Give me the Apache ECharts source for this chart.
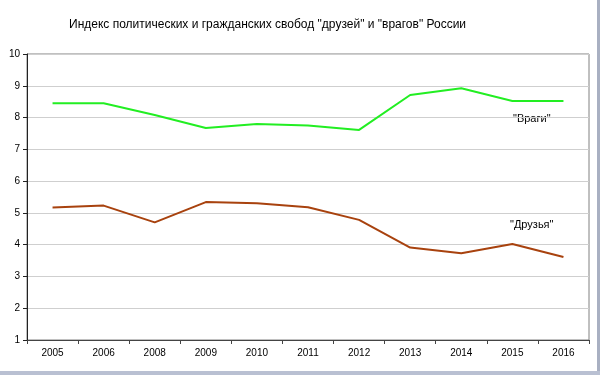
<!DOCTYPE html>
<html>
<head>
<meta charset="utf-8">
<script src="https://cdn.jsdelivr.net/npm/echarts@6/dist/echarts.min.js"></script>
<style>
    html, body { margin: 0; padding: 0; background: #fff; }
    #chart { width: 600px; height: 375px; }
</style>
</head>
<body>
<div id="chart"></div>
<script>
// Data
const years = ['2005', '2006', '2008', '2009', '2010', '2011', '2012', '2013', '2014', '2015', '2016'];
const enemies = [8.45, 8.45, 8.08, 7.67, 7.8, 7.75, 7.61, 8.71, 8.92, 8.52, 8.52];
const friends = [5.17, 5.23, 4.70, 5.34, 5.30, 5.18, 4.78, 3.91, 3.73, 4.02, 3.61];
const yTicks = [1, 2, 3, 4, 5, 6, 7, 8, 9, 10];

document.addEventListener('DOMContentLoaded', function () {
    const chartDom = document.getElementById('chart');
    const myChart = echarts.init(chartDom);
    const font = '"Liberation Sans", Arial, sans-serif';

    const option = {
        animation: false,
        backgroundColor: '#fff',
        title: {
            text: 'Индекс политических и гражданских свобод "друзей" и "врагов" России',
            left: 64,
            top: 14,
            textStyle: {
                fontFamily: font,
                fontSize: 12,
                fontWeight: 'normal',
                color: '#000'
            }
        },
        grid: {
            left: 27,
            right: 11,
            top: 54,
            bottom: 35,
            show: true,
            borderColor: '#808080',
            borderWidth: 1
        },
        xAxis: {
            type: 'category',
            data: years,
            boundaryGap: true,
            axisLine: { lineStyle: { color: '#444', width: 1 } },
            axisTick: { show: true, length: 4, lineStyle: { color: '#444' } },
            axisLabel: {
                fontFamily: font,
                fontSize: 10,
                color: '#000',
                margin: 8
            },
            splitLine: { show: false }
        },
        yAxis: {
            type: 'value',
            min: yTicks[0],
            max: yTicks[yTicks.length - 1],
            interval: 1,
            axisLine: { show: true, lineStyle: { color: '#222', width: 1 } },
            axisTick: { show: true, length: 4, lineStyle: { color: '#222' } },
            axisLabel: {
                fontFamily: font,
                fontSize: 10,
                color: '#000',
                margin: 7
            },
            splitLine: { lineStyle: { color: '#cfcfcf', width: 1 } }
        },
        series: [
            {
                name: 'Враги',
                type: 'line',
                data: enemies,
                symbol: 'none',
                lineStyle: { width: 2, color: '#22ee22' }
            },
            {
                name: 'Друзья',
                type: 'line',
                data: friends,
                symbol: 'none',
                lineStyle: { width: 2, color: '#a8420e' }
            }
        ],
        graphic: [
            {
                type: 'text',
                left: 513,
                top: 113,
                style: { text: '"Враги"', font: '11px ' + font, fill: '#000' }
            },
            {
                type: 'text',
                left: 510,
                top: 219,
                style: { text: '"Друзья"', font: '11px ' + font, fill: '#000' }
            },
            {
                type: 'rect',
                shape: { x: 597, y: 0, width: 3, height: 375 },
                style: { fill: '#a9b0c2' }
            },
            {
                type: 'rect',
                shape: { x: 0, y: 371, width: 600, height: 4 },
                style: { fill: '#b9c0d2' }
            }
        ]
    };

    myChart.setOption(option);
});
</script>
</body>
</html>
